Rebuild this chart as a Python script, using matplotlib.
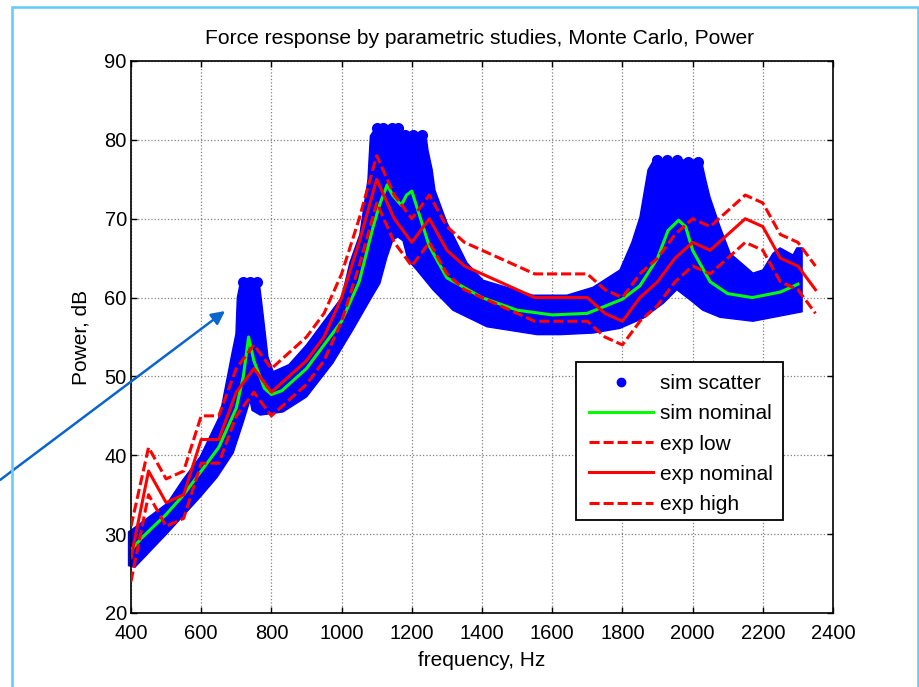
# Force response plot: simulated scatter band against measured levels

import matplotlib
matplotlib.use('Agg')
import matplotlib.pyplot as plt
from matplotlib.patches import Rectangle

plt.rcParams['font.family'] = ['Liberation Sans', 'DejaVu Sans']

# Outline of the simulated scatter, dB
upper_freq = [393, 400, 503, 548, 597, 653, 688, 699, 703, 712, 765, 772, 778, 790, 805,
              850, 900, 950, 1000, 1024, 1052, 1075, 1082, 1095, 1165, 1172, 1240, 1246, 1258,
              1266, 1300, 1357, 1403, 1545, 1642, 1716, 1793, 1827, 1850, 1873, 1890,
              2025, 2037, 2049, 2078, 2107, 2172, 2200, 2229, 2249, 2286, 2297, 2312]
upper_db = [30.3, 30.5, 33.9, 36.9, 39.8, 45, 53, 55.4, 60, 62, 62, 59.5, 57.2, 52.5, 50.6,
            51.5, 54, 57, 60, 64.5, 68, 74.9, 80.5, 81.4, 81.4, 80.7, 80.7, 78.7, 76.2,
            73.6, 69.5, 64.4, 62.2, 60.3, 60.3, 61.3, 63.5, 67, 70.2, 76.2, 77.5,
            77.4, 75, 72.8, 69, 65.6, 63.1, 63.5, 65.6, 66.3, 65.4, 66.3, 66.3]
lower_freq = [393, 411, 503, 597, 645, 691, 719, 739, 745, 768, 833, 900, 975, 1032, 1081,
              1109, 1129, 1146, 1160, 1175, 1189, 1214, 1260, 1317, 1414, 1557, 1622, 1716,
              1793, 1860, 1917, 1955, 1993, 2029, 2078, 2172, 2312]
lower_db = [26, 25.8, 30.1, 34.7, 37.2, 40.3, 44.1, 47, 45.7, 45.1, 45.5, 47.4, 51.7, 55.9, 59.7,
            61.8, 65.1, 67.3, 67.7, 67.2, 64.8, 63.5, 61, 58.4, 56.3, 55.3, 55.3, 55.5,
            56.1, 57.4, 59.3, 61, 59.7, 58.4, 57.5, 57, 58.2]

# Individual points showing along the flat tops of the scatter
top_freq = [719, 739, 759, 1101, 1118, 1144, 1160, 1181, 1203, 1229, 1898, 1927, 1955, 1987, 2015]
top_db = [62, 62, 62, 81.5, 81.5, 81.5, 81.5, 80.6, 80.6, 80.6, 77.4, 77.4, 77.4, 77.2, 77.2]

# Simulated nominal curve
sim_freq = [400, 430, 500, 550, 600, 650, 700, 720, 735, 750, 780, 800, 830, 900, 1000,
            1050, 1090, 1110, 1130, 1145, 1170, 1185, 1200, 1225, 1250, 1300, 1400, 1500,
            1600, 1700, 1800, 1850, 1900, 1930, 1960, 1980, 2000, 2050, 2100, 2170, 2250,
            2300]
sim_db = [28, 29.5, 32.5, 35, 38, 41, 46, 50, 55, 52, 48.5, 47.7, 48.2, 51, 57,
          62, 69, 72, 74.3, 73, 71.7, 73, 73.5, 70, 66.5, 62.5, 60, 58.4,
          57.8, 58, 59.8, 61.5, 65, 68.5, 69.8, 69, 66, 62, 60.5, 60, 60.7,
          61.7]

# Measured levels
exp_freq = [400, 450, 500, 550, 600, 650, 700, 750, 800, 900, 950, 1000, 1050, 1100, 1150,
            1200, 1250, 1300, 1350, 1400, 1500, 1550, 1700, 1750, 1800, 1850, 1900, 1950,
            2000, 2050, 2150, 2200, 2250, 2300, 2350]
exp_nominal = [27, 38, 34, 35, 42, 42, 48, 51, 48, 52, 55, 60, 67, 75, 70,
               67, 70, 66, 64, 63, 61, 60, 60, 58, 57, 60, 62, 65,
               67, 66, 70, 69, 65, 64, 61]
exp_high = [31, 41, 37, 38, 45, 45, 51, 54, 51, 55, 58, 63, 70, 78, 73,
            70, 73, 69, 67, 66, 64, 63, 63, 61, 60, 63, 65, 68,
            70, 69, 73, 72, 68, 67, 64]
exp_low = [24, 35, 31, 32, 39, 39, 45, 48, 45, 49, 52, 57, 64, 72, 67,
           64, 67, 63, 61, 60, 58, 57, 57, 55, 54, 57, 59, 62,
           64, 63, 67, 66, 62, 61, 58]

x_ticks = list(range(400, 2401, 200))
y_ticks = list(range(20, 91, 10))

fig = plt.figure(figsize=(9.2, 6.87), dpi=100)
ax = fig.add_axes([131 / 920, 1 - 613 / 687, 702 / 920, 552 / 687])

dash = (0, (3.3, 1.3))

# scatter band, filled inside its outline
band_freq = upper_freq + lower_freq[::-1]
band_db = upper_db + lower_db[::-1]
ax.fill(band_freq, band_db, color='#0000ff', lw=1, joinstyle='round', clip_on=False, zorder=2)
ax.plot(top_freq, top_db, 'o', color='#0000ff', ms=8, mew=0, zorder=2)

ax.plot(sim_freq, sim_db, color='#00ff00', lw=2.2, zorder=4)
ax.plot(exp_freq, exp_low, color='#ff0000', lw=2.2, ls=dash, zorder=5)
ax.plot(exp_freq, exp_nominal, color='#ff0000', lw=2.2, zorder=5)
ax.plot(exp_freq, exp_high, color='#ff0000', lw=2.2, ls=dash, zorder=5)

ax.set_xlim(400, 2400)
ax.set_ylim(20, 90)
ax.set_xticks(x_ticks)
ax.set_yticks(y_ticks)
ax.tick_params(direction='in', top=True, right=True, length=4, width=1, labelsize=14.5)
ax.tick_params(axis='x', pad=8)
ax.tick_params(axis='y', pad=3)
ax.grid(True, color='#808080', ls=':', lw=0.9)
ax.set_axisbelow(True)
for s in ax.spines.values():
    s.set_linewidth(1.2)
ax.set_title('Force response by parametric studies, Monte Carlo, Power', fontsize=15.1, pad=12, x=0.496)
ax.set_xlabel('frequency, Hz', fontsize=15, labelpad=6)
ax.set_ylabel('Power, dB', fontsize=15, labelpad=10)

# legend box drawn separately so the rows can fill it like the original
ax.add_patch(Rectangle((576 / 920, 1 - 520 / 687), 207 / 920, 158 / 687, transform=fig.transFigure,
                       facecolor='white', edgecolor='black', lw=1.3, zorder=6))
handles = [
    plt.Line2D([], [], color='#0000ff', marker='o', ms=6, ls='none'),
    plt.Line2D([], [], color='#00ff00', lw=2.2),
    plt.Line2D([], [], color='#ff0000', lw=2.2, ls=dash),
    plt.Line2D([], [], color='#ff0000', lw=2.2),
    plt.Line2D([], [], color='#ff0000', lw=2.2, ls=dash),
]
labels = ['sim scatter', 'sim nominal', 'exp low', 'exp nominal', 'exp high']
leg = ax.legend(handles, labels, loc='upper left', bbox_to_anchor=(589 / 920, 1 - 374 / 687),
                bbox_transform=fig.transFigure, frameon=False, fontsize=15,
                borderaxespad=0, borderpad=0, labelspacing=0.54, handlelength=3.07,
                handletextpad=0.34)
leg.set_zorder(7)

# light blue frame round the slide, its bottom edge is cut off by the picture
fig.patches.append(Rectangle((12.5 / 920, -0.02), 906 / 920, 1 - 7 / 687 + 0.02, transform=fig.transFigure,
                             fill=False, edgecolor='#66ccff', lw=1.9))

# call-out arrow
ax.annotate('', xy=(225 / 920, 1 - 311 / 687), xytext=(0, 1 - 480 / 687),
            xycoords='figure fraction', textcoords='figure fraction',
            arrowprops=dict(arrowstyle='-|>', color='#0a66cc', lw=1.8, mutation_scale=20, shrinkA=0, shrinkB=0),
            annotation_clip=False, zorder=8)

fig.savefig('out.png', dpi=100)
